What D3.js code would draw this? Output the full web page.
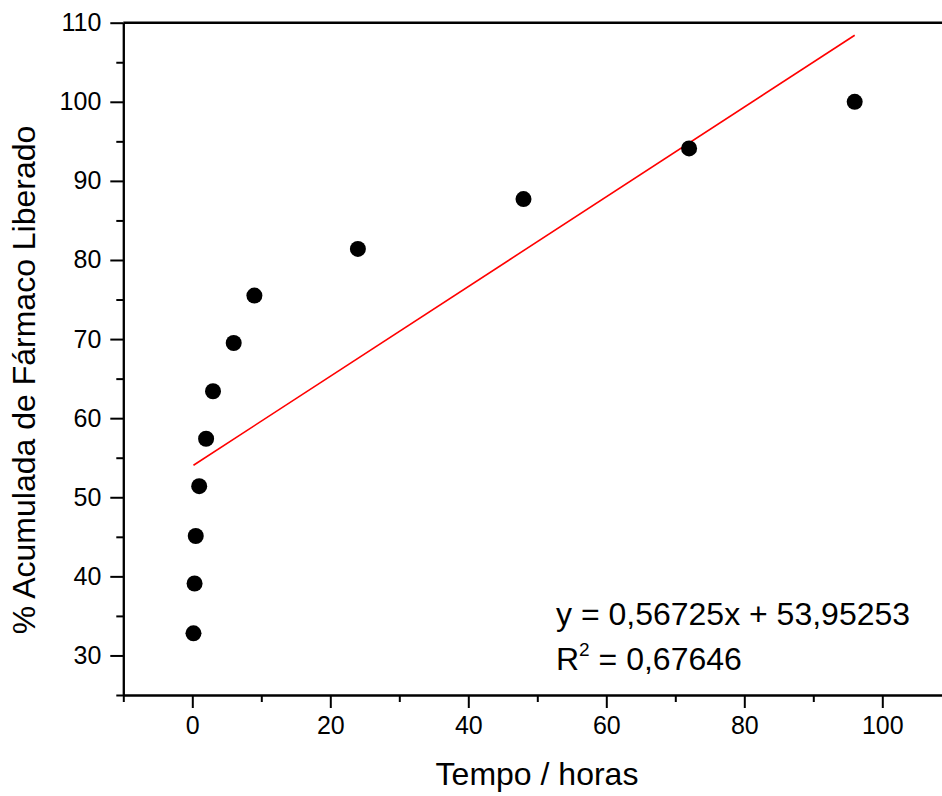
<!DOCTYPE html>
<html>
<head>
<meta charset="utf-8">
<script src="https://cdn.jsdelivr.net/npm/d3@7"></script>
<style>
    body { margin: 0; background: #fff; }
    svg { display: block; font-family: "Liberation Sans", Arial, sans-serif; }
    .axis path, .axis line { stroke: #000; stroke-width: 2; }
    .axis text { font-size: 25px; fill: #000; }
</style>
</head>
<body>
<svg id="chart" width="942" height="796"></svg>
<script>
// Tempo (h) and % acumulada liberada
const tempo = [0.17, 0.33, 0.5, 1, 2, 3, 6, 9, 24, 48, 72, 96];
const liberado = [32.8, 39.1, 45.1, 51.4, 57.4, 63.4, 69.5, 75.5, 81.4, 87.7, 94.1, 100];

const xTicks = [0, 20, 40, 60, 80, 100];
const xMinorTicks = [-10, 10, 30, 50, 70, 90, 110];
const yTicks = [30, 40, 50, 60, 70, 80, 90, 100, 110];
const yMinorTicks = [25, 35, 45, 55, 65, 75, 85, 95, 105];

const slope = 0.56725;
const intercept = 53.95253;
const r2 = "0,67646";

const svg = d3.select("#chart");

const x = d3.scaleLinear().domain([-10, 110]).range([123.3, 951.3]);
const y = d3.scaleLinear().domain([25, 110]).range([695, 22.7]);

// Minor ticks first, major on top
svg.append("g")
    .attr("class", "axis")
    .attr("transform", "translate(0," + y(25) + ")")
    .call(d3.axisBottom(x).tickValues(xMinorTicks).tickSize(7).tickSizeOuter(0).tickFormat(""));

svg.append("g")
    .attr("class", "axis")
    .attr("transform", "translate(" + x(-10) + ",0)")
    .call(d3.axisLeft(y).tickValues(yMinorTicks).tickSize(7).tickSizeOuter(0).tickFormat(""));

svg.append("g")
    .attr("class", "axis")
    .attr("transform", "translate(0," + y(25) + ")")
    .call(d3.axisBottom(x).tickValues(xTicks).tickSize(13).tickSizeOuter(0).tickPadding(8));

svg.append("g")
    .attr("class", "axis")
    .attr("transform", "translate(" + x(-10) + ",0)")
    .call(d3.axisLeft(y).tickValues(yTicks).tickSize(13).tickSizeOuter(0).tickPadding(9));

// Top frame line
svg.append("line")
    .attr("x1", x(-10)).attr("x2", x(110))
    .attr("y1", y(110)).attr("y2", y(110))
    .attr("stroke", "#000")
    .attr("stroke-width", 2.5);

// Linear fit
const fitX = d3.extent(tempo);
svg.append("line")
    .attr("x1", x(fitX[0])).attr("y1", y(slope * fitX[0] + intercept))
    .attr("x2", x(fitX[1])).attr("y2", y(slope * fitX[1] + intercept))
    .attr("stroke", "#ff0000")
    .attr("stroke-width", 1.6);

// Points
svg.append("g")
    .selectAll("circle")
    .data(tempo.map((t, i) => [t, liberado[i]]))
    .join("circle")
    .attr("cx", (d) => x(d[0]))
    .attr("cy", (d) => y(d[1]))
    .attr("r", 8)
    .attr("fill", "#000");

// Axis titles
svg.append("text")
    .attr("x", 537)
    .attr("y", 785)
    .attr("text-anchor", "middle")
    .style("font-size", "32px")
    .text("Tempo / horas");

svg.append("text")
    .attr("transform", "translate(35,380) rotate(-90)")
    .attr("text-anchor", "middle")
    .style("font-size", "32px")
    .text("% Acumulada de Fármaco Liberado");

// Equation
const eq = svg.append("g").style("font-size", "32px");
eq.append("text")
    .attr("x", 556)
    .attr("y", 625)
    .text("y = " + String(slope).replace(".", ",") + "x + " + String(intercept).replace(".", ","));

const r2Text = eq.append("text")
    .attr("x", 556)
    .attr("y", 670);
r2Text.append("tspan").text("R");
r2Text.append("tspan").attr("dy", -14).style("font-size", "19px").text("2");
r2Text.append("tspan").attr("dy", 14).text(" = " + r2);
</script>
</body>
</html>
